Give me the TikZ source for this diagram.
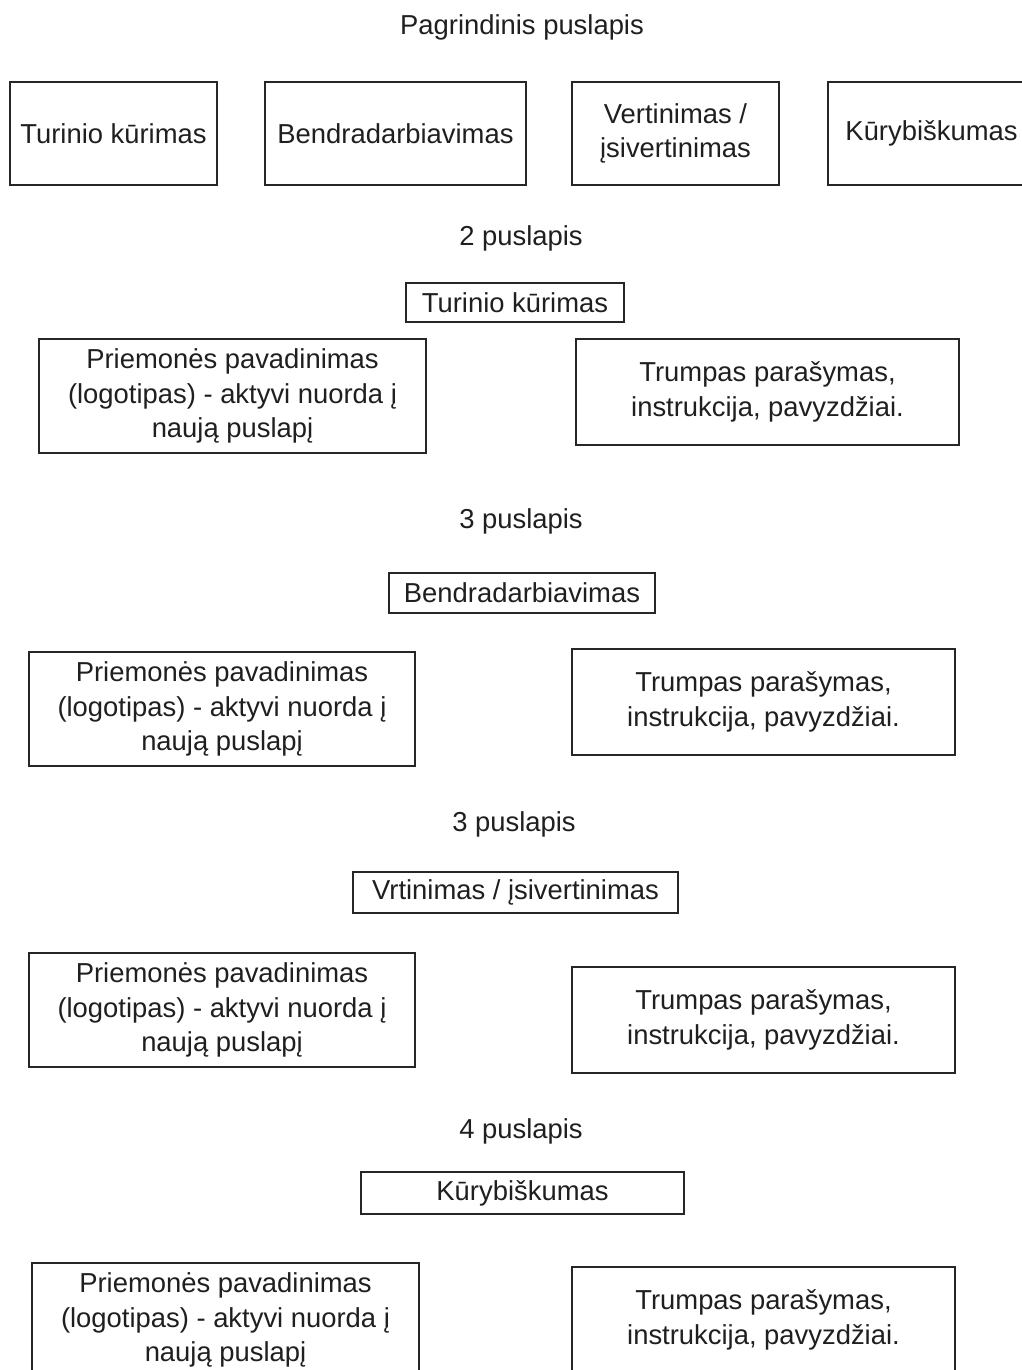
\documentclass[tikz,border=0pt]{standalone}
\usepackage{fontspec}
\setmainfont{Liberation Sans}
\begin{document}
\begin{tikzpicture}[x=0.5pt,y=-0.5pt,
  every node/.style={font=\fontsize{13.7}{17.2}\selectfont, text=black!88, align=center, inner sep=0pt},
  pagebox/.style={draw=black!85, line width=0.75pt, rectangle},
  caption/.style={}]
  \clip (0,0) rectangle (1022,1370);
  \fill[white] (0,0) rectangle (1022,1370);

  % main page and its four sections
  \node[caption] (main) at (522,27) {Pagrindinis puslapis};
  \node[pagebox, minimum width=103.5pt, minimum height=51.5pt] (m1) at (113.5,133.5) {Turinio kūrimas};
  \node[pagebox, minimum width=130.5pt, minimum height=51.5pt] (m2) at (395.5,133.5) {Bendradarbiavimas};
  \node[pagebox, minimum width=103.5pt, minimum height=51.5pt] (m3) at (675.5,133.5) {Vertinimas /\\įsivertinimas};
  \node[pagebox, minimum width=103.5pt, minimum height=51.5pt] (m4) at (931.5,133.5) {Kūrybiškumas};

  % page 2
  \node[caption] (p2) at (521,238) {2 puslapis};
  \node[pagebox, minimum width=109pt, minimum height=19.5pt] (t1) at (515,302.5) {Turinio kūrimas};
  \node[pagebox, minimum width=193.5pt, minimum height=57pt] (l1) at (232.5,396) {Priemonės pavadinimas\\(logotipas) - aktyvi nuorda į\\naują puslapį};
  \node[pagebox, minimum width=191.5pt, minimum height=53pt] (r1) at (767.5,392) {Trumpas parašymas,\\instrukcija, pavyzdžiai.};

  % page 3
  \node[caption] (p3) at (521,521) {3 puslapis};
  \node[pagebox, minimum width=133pt, minimum height=20pt] (t2) at (522,593) {Bendradarbiavimas};
  \node[pagebox, minimum width=193pt, minimum height=57pt] (l2) at (222,709) {Priemonės pavadinimas\\(logotipas) - aktyvi nuorda į\\naują puslapį};
  \node[pagebox, minimum width=191.5pt, minimum height=53pt] (r2) at (763.5,702) {Trumpas parašymas,\\instrukcija, pavyzdžiai.};

  % page 3 (evaluation)
  \node[caption] (p3b) at (514,824) {3 puslapis};
  \node[pagebox, minimum width=162.5pt, minimum height=20.5pt] (t3) at (515.5,892.5) {Vrtinimas / įsivertinimas};
  \node[pagebox, minimum width=193pt, minimum height=57pt] (l3) at (222,1010) {Priemonės pavadinimas\\(logotipas) - aktyvi nuorda į\\naują puslapį};
  \node[pagebox, minimum width=191.5pt, minimum height=53pt] (r3) at (763.5,1020) {Trumpas parašymas,\\instrukcija, pavyzdžiai.};

  % page 4
  \node[caption] (p4) at (521,1131) {4 puslapis};
  \node[pagebox, minimum width=161.5pt, minimum height=21pt] (t4) at (522.5,1193) {Kūrybiškumas};
  \node[pagebox, minimum width=193.5pt, minimum height=57pt] (l4) at (225.5,1320) {Priemonės pavadinimas\\(logotipas) - aktyvi nuorda į\\naują puslapį};
  \node[pagebox, minimum width=191.5pt, minimum height=53pt] (r4) at (763.5,1320) {Trumpas parašymas,\\instrukcija, pavyzdžiai.};
\end{tikzpicture}
\end{document}
